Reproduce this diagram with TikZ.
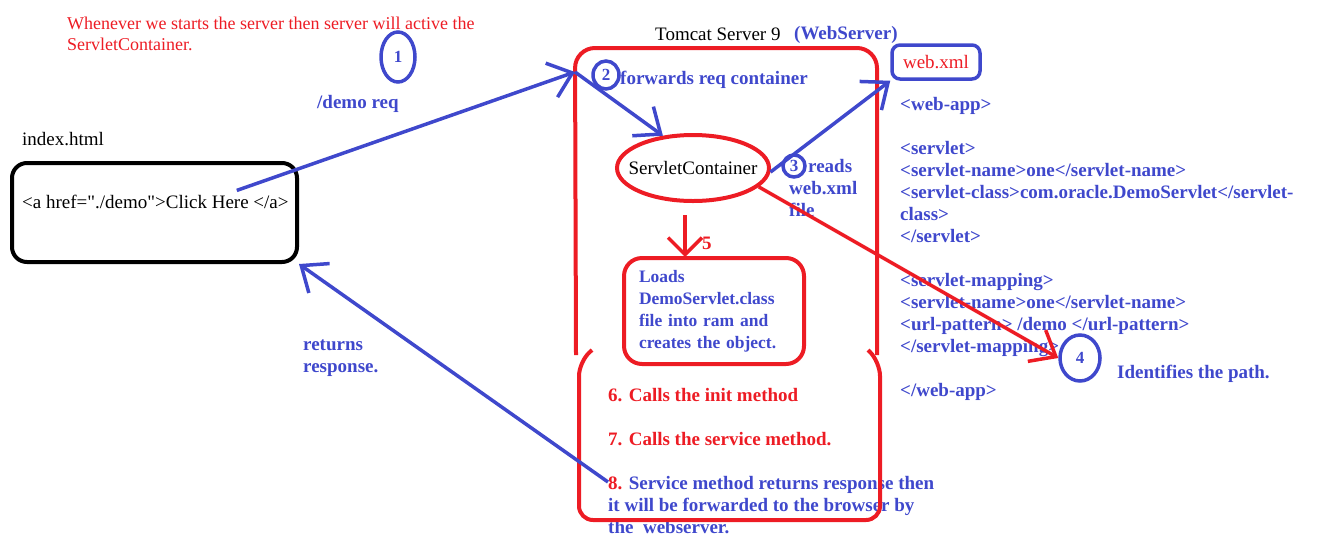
\documentclass[tikz,border=0pt]{standalone}
\usepackage{fontspec}
\setmainfont{Liberation Serif}[Ligatures=TeXOff]
\usetikzlibrary{shapes.geometric,arrows.meta}
\definecolor{paintblue}{RGB}{63,72,204}
\definecolor{paintred}{RGB}{237,28,36}

\begin{document}
\begin{tikzpicture}[x=1pt,y=-1pt]
    \tikzstyle{every node} = [font=\fontsize{19}{22}\selectfont, inner sep=0pt]
    \tikzstyle{plain} = [anchor=base west]
    \tikzstyle{note} = [anchor=base west, text=paintblue, font=\fontsize{19}{22}\selectfont\bfseries]
    \tikzstyle{rednote} = [anchor=base west, text=paintred, font=\fontsize{19}{22}\selectfont\bfseries]
    \tikzstyle{stepmark} = [draw=paintblue, line width=3.5pt, ellipse, text=paintblue, font=\fontsize{17}{22}\selectfont\bfseries]
    \tikzstyle{flow} = [line width=3.5pt, -{Straight Barb[length=22pt,width=36pt]}]
    \useasboundingbox (0,0) rectangle (1335,539);

    % place nodes
    \node[anchor=north west, align=left, text=paintred, font=\fontsize{18}{21}\selectfont] (intro) at (67,17)
        {Whenever we starts the server then server will active the\\ServletContainer.};
    \node[stepmark, minimum width=34pt, minimum height=50pt] (step1) at (398,57) {1};
    \node[note] (demoreq) at (317,108) {/demo req};
    \node[plain] (indexname) at (22,145) {index.html};
    \node[draw, line width=4pt, rounded corners=15pt, minimum width=285pt, minimum height=99pt] (page) at (154.5,212.5) {};
    \node[plain] (link) at (22,208) {<a href="./demo">Click Here </a>};
    \node[plain] (tomcat) at (655,40) {Tomcat Server 9};
    \node[note] (webserver) at (794,39) {(WebServer)};
    \node[stepmark, minimum width=26pt, minimum height=28pt] (step2) at (606,75) {2};
    \node[note] (forward) at (620,84) {forwards req container};
    \node[ellipse, draw=paintred, line width=4pt, minimum width=152pt, minimum height=66pt] (container) at (693,168)
        {\makebox[0pt]{ServletContainer}};
    \node[stepmark, circle, minimum size=22pt] (step3) at (794,166) {3};
    \node[note] (reads) at (808,172) {reads};
    \node[note, anchor=north west, align=left] (readsfile) at (789,181) {web.xml\\file};
    \node[draw=paintblue, line width=3.5pt, rounded corners=8pt, minimum width=88pt, minimum height=34pt, text=paintred] (webxml) at (936,62) {web.xml};
    \node[note, anchor=north west, align=left] (xml) at (900,97)
        {<web-app>\\[22pt]
         <servlet>\\
         <servlet-name>one</servlet-name>\\
         <servlet-class>com.oracle.DemoServlet</servlet-\\
         class>\\
         </servlet>\\[22pt]
         <servlet-mapping>\\
         <servlet-name>one</servlet-name>\\
         <url-pattern> /demo </url-pattern>\\
         </servlet-mapping>\\[22pt]
         </web-app>};
    \node[stepmark, minimum width=40pt, minimum height=46pt] (step4) at (1080,358) {4};
    \node[note] (identify) at (1117,378) {Identifies the path.};
    \node[rednote] (step5) at (702,249) {5};
    \node[draw=paintred, line width=4pt, rounded corners=18pt, minimum width=180pt, minimum height=106pt,
          text width=150pt, align=left, text=paintblue, font=\fontsize{17.5}{22}\selectfont\bfseries] (loads) at (714,311)
        {Loads\\DemoServlet.class\\file into ram and\\creates the object.};
    \node[rednote] (step6) at (608,401) {6. Calls the init method};
    \node[rednote] (step7) at (608,445) {7. Calls the service method.};
    \node[note, anchor=north west, align=left] (step8) at (608,476)
        {\textcolor{paintred}{8.} Service method returns response then\\it will be forwarded to the browser by\\the\ \ webserver.};
    \node[note, anchor=north west, align=left] (returns) at (303,340) {returns\\response.};

    % server box
    \draw[paintred, line width=4pt, rounded corners=20pt] (576,355) -- (575,48) -- (877,48) -- (877,355);
    \draw[paintred, line width=4pt, rounded corners=14pt] (592,350) -- (579,362) -- (579,520) -- (880,520) -- (880,362) -- (868,350);
    \coordinate (reqtip) at (575,72);

    % Connections
    \draw[flow, paintblue] (link.north east) ++(-52,-4) -- (reqtip);
    \draw[flow, paintblue] (reqtip) -- (container.133);
    \draw[flow, paintblue] (container.-3) -- (webxml.south west);
    \draw[flow, paintred] (container.-16) -- (step4.west);
    \draw[line width=3.5pt, paintred, -{Straight Barb[length=17pt,width=34pt]}] (container.south) ++(-8,12) -- ++(0,42);
    \draw[flow, paintblue] (step8.north west) ++(0,6) -- (page.south east);

  \end{tikzpicture}
\end{document}
